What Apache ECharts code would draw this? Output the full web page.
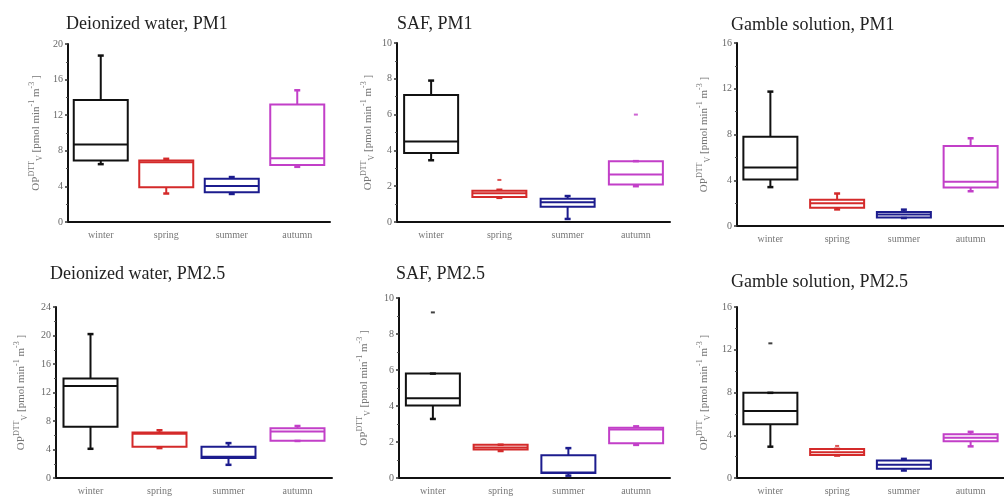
<!DOCTYPE html>
<html>
<head>
<meta charset="utf-8">
<script src="https://cdn.jsdelivr.net/npm/echarts@6/dist/echarts.min.js"></script>
<style>
  html, body { margin: 0; padding: 0; background: #fff; }
  #chart { width: 1004px; height: 496px; }
</style>
</head>
<body>
<div id="chart"></div>
<script>
// seasons on the x axis
var seasons = ['winter', 'spring', 'summer', 'autumn']

// box data per season: [min, Q1, median, Q3, max]
var dwPM1 = [[6.5, 6.9, 8.7, 13.7, 18.7], [3.2, 3.9, 6.7, 6.9, 7.1], [3.15, 3.35, 4.05, 4.85, 5.05], [6.2, 6.4, 7.15, 13.2, 14.8]]
var safPM1 = [[3.45, 3.85, 4.5, 7.1, 7.9], [1.35, 1.4, 1.6, 1.75, 1.8], [0.17, 0.85, 1.1, 1.3, 1.45], [2.0, 2.1, 2.65, 3.4, 3.4]]
var gamblePM1 = [[3.4, 4.07, 5.12, 7.8, 11.75], [1.45, 1.6, 2.0, 2.3, 2.84], [0.7, 0.74, 1.0, 1.23, 1.43], [3.04, 3.37, 3.86, 7.0, 7.67]]
var dwPM25 = [[4.1, 7.2, 12.9, 13.95, 20.2], [4.2, 4.4, 6.2, 6.4, 6.7], [1.85, 2.8, 3.0, 4.4, 4.9], [5.2, 5.23, 6.53, 7.0, 7.3]]
var safPM25 = [[3.28, 4.03, 4.43, 5.8, 5.8], [1.5, 1.58, 1.7, 1.85, 1.85], [0.13, 0.28, 0.3, 1.26, 1.66], [1.84, 1.93, 2.7, 2.79, 2.87]]
var gamblePM25 = [[2.93, 5.03, 6.27, 7.97, 7.97], [2.1, 2.16, 2.4, 2.72, 2.72], [0.7, 0.86, 1.23, 1.63, 1.79], [2.96, 3.43, 3.76, 4.1, 4.32]]

// detached points: [season index, value]
var safPM1Out = [[1, 2.35], [3, 6.0]]
var safPM25Out = [[0, 9.2]]
var gamblePM25Out = [[0, 12.6], [1, 3.0]]

// y axis ranges
var yMax = [20, 10, 16, 24, 10, 16]
var yStep = [4, 2, 4, 4, 2, 4]

var titles = ['Deionized water, PM1', 'SAF, PM1', 'Gamble solution, PM1',
  'Deionized water, PM2.5', 'SAF, PM2.5', 'Gamble solution, PM2.5']

var colors = ['#111111', '#d42a2a', '#1c1c8e', '#c23fc8']
var boxW = 54

var panels = [
  { box: dwPM1, out: [], grid: { left: 68, top: 44, width: 262, height: 178 }, title: [66, 15], gap: 24 },
  { box: safPM1, out: safPM1Out, grid: { left: 397, top: 43, width: 273, height: 179 }, title: [397, 15], gap: 21 },
  { box: gamblePM1, out: [], grid: { left: 737, top: 43, width: 267, height: 183 }, title: [731, 16], gap: 25 },
  { box: dwPM25, out: [], grid: { left: 56, top: 307, width: 276, height: 172 }, title: [50, 265], gap: 27 },
  { box: safPM25, out: safPM25Out, grid: { left: 399, top: 298, width: 271, height: 183 }, title: [396, 265], gap: 27 },
  { box: gamblePM25, out: gamblePM25Out, grid: { left: 737, top: 307, width: 267, height: 172 }, title: [731, 273], gap: 25 }
]

function renderBox (params, api) {
  var i = api.value(0)
  var p = []
  for (var k = 1; k <= 5; k++) p.push(api.coord([i, api.value(k)]))
  var cx = p[0][0]
  var h = boxW / 2
  var st = { stroke: colors[i], lineWidth: 2, fill: null }
  var kids = [
    { type: 'rect', shape: { x: cx - h, y: p[3][1], width: boxW, height: p[1][1] - p[3][1] }, style: st },
    { type: 'line', shape: { x1: cx - h, y1: p[2][1], x2: cx + h, y2: p[2][1] }, style: st }
  ]
  if (p[4][1] < p[3][1] - 0.5) {
    kids.push({ type: 'line', shape: { x1: cx, y1: p[3][1], x2: cx, y2: p[4][1] }, style: st })
  }
  kids.push({ type: 'line', shape: { x1: cx - 3, y1: p[4][1], x2: cx + 3, y2: p[4][1] }, style: { stroke: colors[i], lineWidth: 2.5 } })
  if (p[0][1] > p[1][1] + 0.5) {
    kids.push({ type: 'line', shape: { x1: cx, y1: p[1][1], x2: cx, y2: p[0][1] }, style: st })
  }
  kids.push({ type: 'line', shape: { x1: cx - 3, y1: p[0][1], x2: cx + 3, y2: p[0][1] }, style: { stroke: colors[i], lineWidth: 2.5 } })
  return { type: 'group', children: kids }
}

var opt = { animation: false, title: [], grid: [], xAxis: [], yAxis: [], series: [] }

panels.forEach(function (pn, n) {
  opt.title.push({
    text: titles[n], left: pn.title[0], top: pn.title[1], padding: 0,
    textStyle: { fontFamily: 'Liberation Serif', fontSize: 18, fontWeight: 'normal', color: '#222' }
  })
  opt.grid.push(pn.grid)
  opt.xAxis.push({
    type: 'category', gridIndex: n, data: seasons,
    axisLine: { lineStyle: { color: '#111', width: 2 } },
    axisTick: { alignWithLabel: true, length: 3, lineStyle: { color: '#333', width: 1.5 } },
    axisLabel: { color: '#777', fontFamily: 'Liberation Serif', fontSize: 10, margin: 8 },
    splitLine: { show: false }
  })
  opt.yAxis.push({
    type: 'value', gridIndex: n, min: 0, max: yMax[n], interval: yStep[n],
    name: '{t|OP}{s|DTT}{u|V}{t| [pmol min}{s|-1}{t| m}{s|-3}{t| ]}',
    nameLocation: 'middle', nameGap: pn.gap,
    nameTextStyle: {
      rich: {
        t: { fontFamily: 'Liberation Serif', fontSize: 11, color: '#777', lineHeight: 16 },
        s: { fontFamily: 'Liberation Serif', fontSize: 8, color: '#777', verticalAlign: 'top', lineHeight: 16 },
        u: { fontFamily: 'Liberation Serif', fontSize: 8, color: '#777', verticalAlign: 'bottom', lineHeight: 16 }
      }
    },
    axisLine: { show: true, lineStyle: { color: '#111', width: 2 } },
    axisTick: { show: true, length: 3, lineStyle: { color: '#333', width: 1.5 } },
    minorTick: { show: true, splitNumber: 2, length: 2, lineStyle: { color: '#555' } },
    axisLabel: { color: '#666', fontFamily: 'Liberation Serif', fontSize: 10, margin: 5 },
    splitLine: { show: false }
  })
  opt.series.push({
    type: 'custom', xAxisIndex: n, yAxisIndex: n,
    renderItem: renderBox,
    encode: { x: 0, y: [1, 2, 3, 4, 5] },
    data: pn.box.map(function (b, i) { return [i].concat(b) })
  })
  if (pn.out.length) {
    opt.series.push({
      type: 'scatter', xAxisIndex: n, yAxisIndex: n,
      symbol: 'rect', symbolSize: [4, 2],
      itemStyle: { color: function (p) { return colors[p.data[0]] } },
      data: pn.out
    })
  }
})

var chart = echarts.init(document.getElementById('chart'))
chart.setOption(opt)
</script>
</body>
</html>
